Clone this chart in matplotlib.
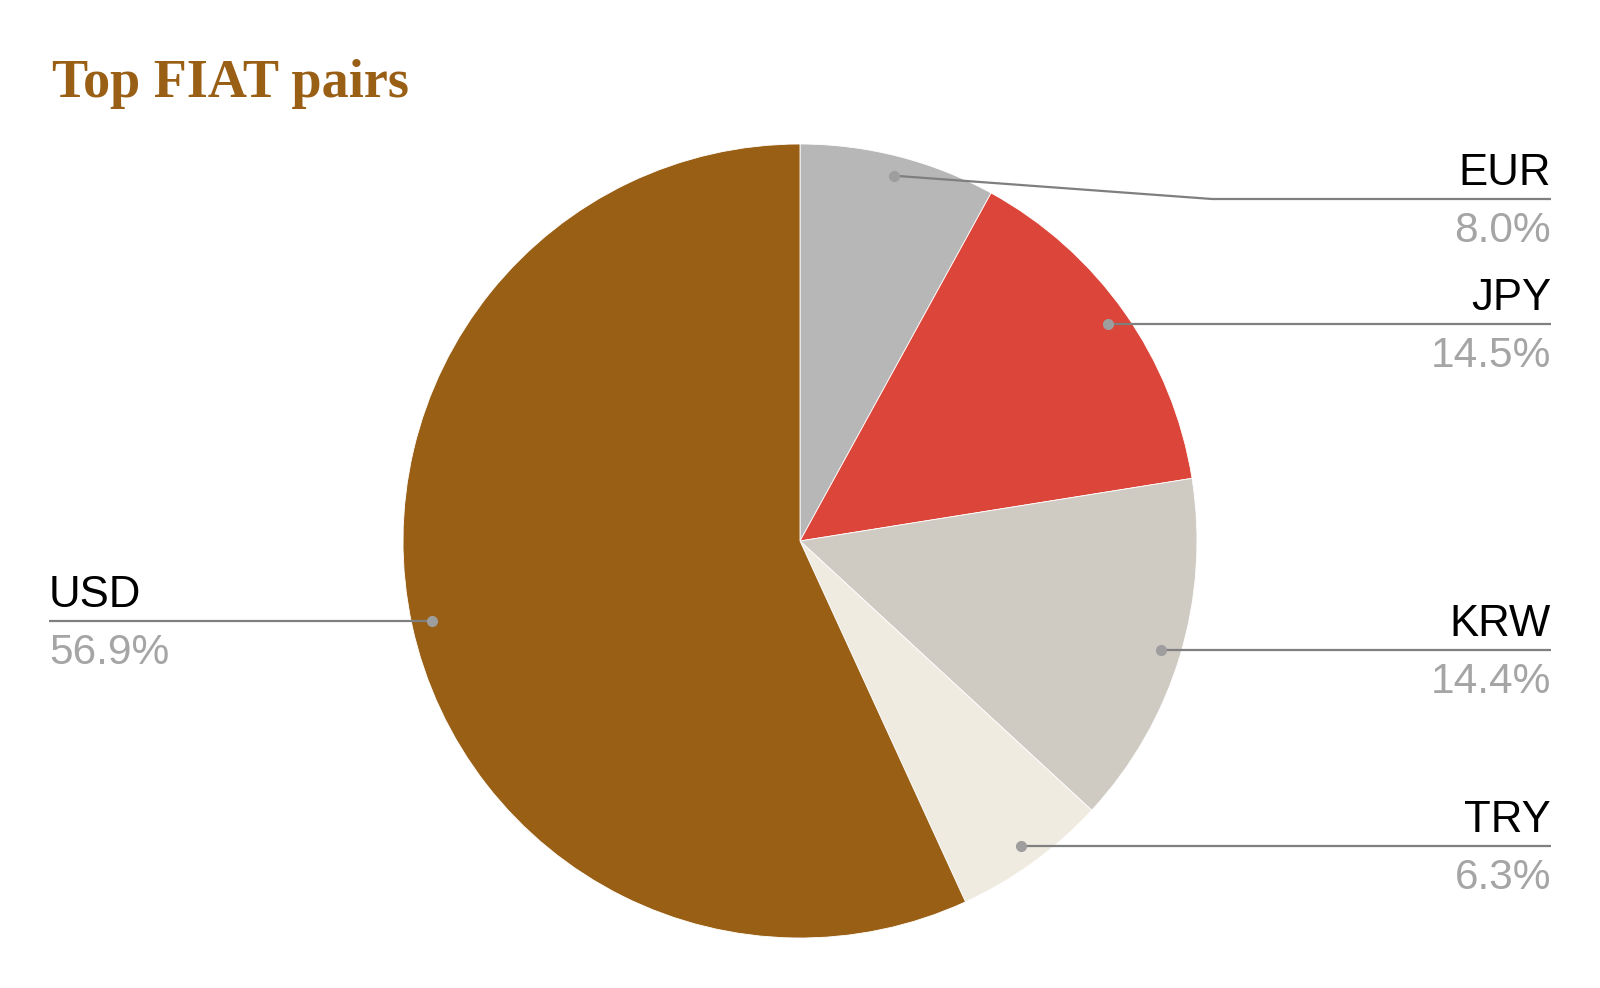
import numpy as np
import matplotlib.pyplot as plt

# data, clockwise from 12 o'clock
labels = ["EUR", "JPY", "KRW", "TRY", "USD"]
shares = [8.0, 14.5, 14.4, 6.3, 56.9]
pct_text = ["8.0%", "14.5%", "14.4%", "6.3%", "56.9%"]
colors = ["#b7b7b7", "#dc4539", "#cfcbc3", "#efebe1", "#995f15"]

W, H = 1600, 988
cx, cy, R = 800, H - 541, 397

fig = plt.figure(figsize=(16, 9.88), dpi=100)
ax = fig.add_axes([0, 0, 1, 1])

ax.pie(shares, colors=colors, startangle=90, counterclock=False,
       center=(cx, cy), radius=R, frame=True,
       wedgeprops=dict(edgecolor="white", linewidth=0.6))
ax.set_xlim(0, W)
ax.set_ylim(0, H)
ax.set_aspect("equal")
ax.axis("off")

fig.text(52 / W, 1 - 97 / H, "Top FIAT pairs", family="Liberation Serif",
         fontweight="bold", fontsize=39, color="#995f15", va="baseline")

# leader lines, dots and labels
total = sum(shares)
cum = np.cumsum([0] + shares[:-1])
line_col = "#7f7f7f"
top_y = H - 199  # highest a label line can sit
for name, val, c0, pct in zip(labels, shares, cum, pct_text):
    ang = np.deg2rad(90 - 360 * (c0 + val / 2) / total)
    dx, dy = cx + 0.95 * R * np.cos(ang), cy + 0.95 * R * np.sin(ang)
    right = np.cos(ang) > 0
    ly = min(dy, top_y)
    if right:
        end_x = 1551
        if ly < dy:
            xs, ys = [dx, 1212, end_x], [dy, ly, ly]
        else:
            xs, ys = [dx, end_x], [ly, ly]
        tx, ha = end_x, "right"
    else:
        end_x = 49
        xs, ys = [dx, end_x], [ly, ly]
        tx, ha = end_x, "left"
    ax.plot(xs, ys, color=line_col, lw=1.6, solid_capstyle="butt", zorder=3)
    ax.plot(dx, dy, "o", ms=7, color="#9e9e9e", zorder=4)
    ax.text(tx, ly + 14, name, ha=ha, va="baseline", fontsize=31.5,
            family="Liberation Sans", color="black")
    ax.text(tx, ly - 43, pct, ha=ha, va="baseline", fontsize=30.5,
            family="Liberation Sans", color="#a5a5a5")

fig.savefig("out.png", dpi=100, facecolor="white")
